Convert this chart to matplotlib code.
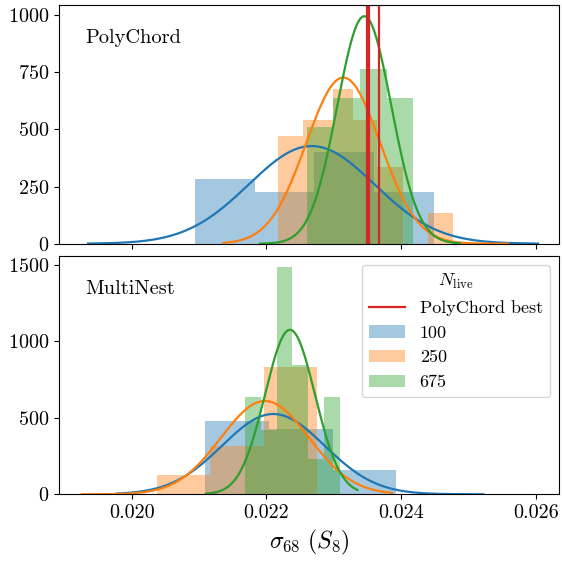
import numpy as np
import matplotlib
matplotlib.use("Agg")
import matplotlib.pyplot as plt

plt.rcParams['font.family'] = 'serif'
plt.rcParams['font.serif'] = ['cmr10']
plt.rcParams['mathtext.fontset'] = 'cm'
plt.rcParams['axes.formatter.use_mathtext'] = True

# ---------------- data ----------------
labels = ["100", "250", "675"]
colors = ["#1f77b4", "#ff7f0e", "#2ca02c"]

# PolyChord histograms (bin edges and density heights)
pc_edges_100 = [0.020939, 0.021825, 0.022710, 0.023596, 0.024482]
pc_heights_100 = [283, 226, 401, 226]
pc_edges_250 = [0.022171, 0.022547, 0.022983, 0.023280, 0.023636, 0.024022, 0.024397, 0.024764]
pc_heights_250 = [471, 541, 676, 541, 337, 0, 133]
pc_edges_675 = [0.022597, 0.022992, 0.023388, 0.023785, 0.024179]
pc_heights_675 = [512, 636, 764, 636]

# MultiNest histograms
mn_edges_100 = [0.021088, 0.022038, 0.022983, 0.023923]
mn_heights_100 = [479, 427, 159]
mn_edges_250 = [0.020371, 0.021165, 0.021956, 0.022749]
mn_heights_250 = [126, 316, 833]
mn_edges_675 = [0.021682, 0.021917, 0.022151, 0.022386, 0.022620, 0.022855, 0.023089]
mn_heights_675 = [634, 420, 1485, 846, 230, 634]

# Gaussian fits: mean, sigma, x-range start, x-range end
pc_mu = [0.022671, 0.023140, 0.023452]
pc_sigma = [0.000934, 0.000549, 0.000401]
pc_xstart = [0.019351, 0.021359, 0.021904]
pc_xend = [0.026030, 0.025585, 0.024872]

mn_mu = [0.022102, 0.021978, 0.022349]
mn_sigma = [0.000760, 0.000654, 0.000371]
mn_xstart = [0.019777, 0.019258, 0.021100]
mn_xend = [0.025218, 0.023859, 0.023350]

# PolyChord best values
pc_best = [0.023494, 0.023521, 0.023663]

# ---------------- plot ----------------
fig = plt.figure(figsize=(5.62, 5.61), dpi=100)
ax1 = fig.add_axes([0.105, 0.5656, 0.8897, 0.4255])
ax2 = fig.add_axes([0.105, 0.1189, 0.8897, 0.4248], sharex=ax1)


def draw_panel(ax, edges_list, heights_list, mus, sigmas, xs, xe):
    bars = []
    for edges, heights, c, lab in zip(edges_list, heights_list, colors, labels):
        e = np.array(edges)
        b = ax.bar(e[:-1], heights, width=np.diff(e), align='edge', color=c,
                   alpha=0.4, label=lab, linewidth=0)
        bars.append(b)
    for mu, s, a, bnd, c in zip(mus, sigmas, xs, xe, colors):
        x = np.linspace(a, bnd, 300)
        y = np.exp(-0.5 * ((x - mu) / s) ** 2) / (s * np.sqrt(2 * np.pi))
        ax.plot(x, y, color=c, lw=1.6)
    return bars


bars_pc = draw_panel(ax1, [pc_edges_100, pc_edges_250, pc_edges_675],
                     [pc_heights_100, pc_heights_250, pc_heights_675],
                     pc_mu, pc_sigma, pc_xstart, pc_xend)
red = None
for v in pc_best:
    red = ax1.axvline(v, color="#d62728", lw=1.6)

draw_panel(ax2, [mn_edges_100, mn_edges_250, mn_edges_675],
           [mn_heights_100, mn_heights_250, mn_heights_675],
           mn_mu, mn_sigma, mn_xstart, mn_xend)

ax1.set_xlim(0.018921, 0.026342)
ax1.set_ylim(0, 1044)
ax2.set_ylim(0, 1558)
ax1.set_yticks([0, 250, 500, 750, 1000])
ax2.set_yticks([0, 500, 1000, 1500])
ax1.set_xticks([0.020, 0.022, 0.024, 0.026])
ax2.xaxis.set_major_formatter(matplotlib.ticker.FormatStrFormatter('%.3f'))
plt.setp(ax1.get_xticklabels(), visible=False)

for ax in (ax1, ax2):
    ax.tick_params(labelsize=14.5)

ax1.text(0.052, 0.90, "PolyChord", transform=ax1.transAxes, fontsize=14.7, va='top')
ax2.text(0.052, 0.90, "MultiNest", transform=ax2.transAxes, fontsize=14.7, va='top')

ax2.set_xlabel(r"$\sigma_{68}\ (S_8)$", fontsize=17)

ax2.legend(handles=[red] + bars_pc, labels=["PolyChord best"] + labels,
           title=r"$N_{\rm live}$", fontsize=13, title_fontsize=13,
           loc='upper right')

fig.savefig("out.png", dpi=100)
